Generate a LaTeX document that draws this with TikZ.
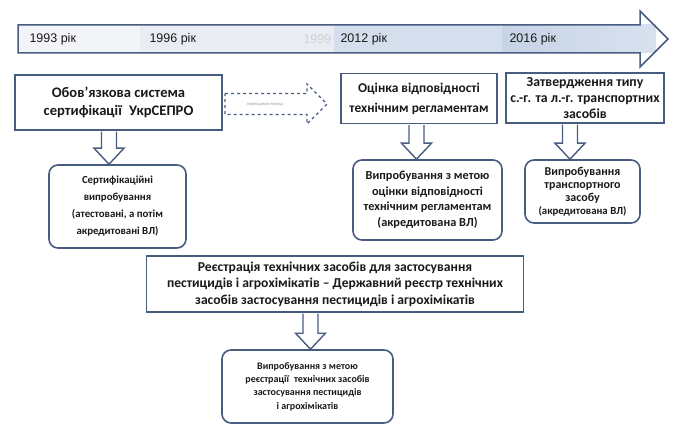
\documentclass[tikz,border=0pt]{standalone}
\usepackage{fontspec}
\setmainfont{Carlito}
\newfontfamily\arialfont{Liberation Sans}
\usetikzlibrary{arrows.meta,calc}
\definecolor{frame}{RGB}{72,92,128}
\definecolor{zoneA}{RGB}{243,244,247}
\definecolor{zoneB}{RGB}{233,237,243}
\definecolor{zoneC}{RGB}{213,222,236}
\definecolor{zoneD}{RGB}{199,212,231}
\definecolor{zoneE}{RGB}{216,225,238}

% hollow block arrow: from node, to node, x offset from target centre
\newcommand\blkarrow[3]{%
  \draw[blk] let \p1=(#1.south), \p2=(#2.north) in
    (\x2+#3-7.5pt,\y1-0.8pt) -- (\x2+#3-7.5pt,\y2+16pt) -- (\x2+#3-15pt,\y2+16pt)
    -- (\x2+#3,\y2) -- (\x2+#3+15pt,\y2+16pt) -- (\x2+#3+7.5pt,\y2+16pt)
    -- (\x2+#3+7.5pt,\y1-0.8pt);}

\begin{document}
\begin{tikzpicture}[x=1pt, y=-1pt,
    box/.style = {draw=frame, line width=1.6pt, rectangle, align=center, text=black!90, inner sep=1pt},
    rbox/.style = {box, rounded corners=9pt},
    blk/.style = {draw=frame, line width=1.4pt, line join=miter},
    year/.style = {anchor=west, font=\arialfont\fontsize{12.5}{14}\selectfont, text=black!90},]
    \useasboundingbox (0,0) rectangle (673,425);
    % time line
    \fill[zoneA] (18,25) rectangle (140,53);
    \fill[zoneB] (140,25) rectangle (334,53);
    \fill[zoneC] (334,25) rectangle (502,53);
    \shade[left color=zoneD, right color=zoneE] (502,25) rectangle (656,53);
    \draw[frame, line width=1.5pt, line join=miter] (18,25) -- (640,25) -- (640,11) -- (668,39)
      -- (640,67) -- (640,53) -- (18,53) -- cycle;
    \node [year] (y1993) at (26,39) {1993 рік};
    \node [year] (y1996) at (146,39) {1996 рік};
    \node [year, text=black!18] (y1999) at (300,39) {1999};
    \node [year] (y2012) at (337,39) {2012 рік};
    \node [year] (y2016) at (506,39) {2016 рік};

    \node [box, minimum width=207, minimum height=55, font=\bfseries\fontsize{14.6}{18.5}\selectfont] (ukrsepro) at (118.5,102.5)
      {Обов’язкова система\\сертифікації\enspace УкрСЕПРО};
    \node [box, minimum width=156, minimum height=50, font=\bfseries\fontsize{13.4}{20}\selectfont] (techreg) at (419,98.5)
      {Оцінка відповідності\\технічним регламентам};
    \node [box, minimum width=158, minimum height=50, font=\bfseries\fontsize{13.8}{16}\selectfont] (typeappr) at (585,98)
      {Затвердження типу\\с.-г. та л.-г. транспортних\\засобів};
    \node [rbox, minimum width=137, minimum height=83, font=\bfseries\fontsize{10.8}{17}\selectfont] (certtest) at (117.5,206.5)
      {Сертифікаційні\\випробування\\(атестовані, а потім\\акредитовані ВЛ)};
    \node [rbox, minimum width=149, minimum height=80, font=\bfseries\fontsize{12.3}{15.5}\selectfont] (regtest) at (427.5,200)
      {Випробування з метою\\оцінки відповідності\\технічним регламентам\\(акредитована ВЛ)};
    \node [rbox, minimum width=115, minimum height=63, font=\bfseries\fontsize{12}{13}\selectfont] (vehtest) at (582.5,191.5)
      {Випробування\\транспортного\\засобу\\{\fontsize{10.8}{13}\selectfont(акредитована ВЛ)}};
    \node [box, minimum width=377, minimum height=56, font=\bfseries\fontsize{13.6}{16.5}\selectfont] (pestreg) at (335,284)
      {Реєстрація технічних засобів для застосування\\пестицидів і агрохімікатів – Державний реєстр технічних\\засобів застосування пестицидів і агрохімікатів};
    \node [rbox, minimum width=171, minimum height=73, font=\bfseries\fontsize{10}{13.3}\selectfont] (pesttest) at (307.5,386.5)
      {Випробування з метою\\реєстрації\enspace технічних засобів\\застосування пестицидів\\і агрохімікатів};

    % dashed transition arrow
    \draw[frame, line width=1.3pt, dashed, line join=miter] (225,93.5) -- (307,93.5) -- (307,84)
      -- (327,104) -- (307,124) -- (307,114.5) -- (225,114.5) -- cycle;
    \node [font=\fontsize{4.5}{5}\selectfont, text=black!40] (transit) at (265,104) {перехідний період};

    \blkarrow{ukrsepro}{certtest}{-8.5pt}
    \blkarrow{techreg}{regtest}{-11pt}
    \blkarrow{typeappr}{vehtest}{-12.5pt}
    \blkarrow{pestreg}{pesttest}{3pt}
  \end{tikzpicture}
\end{document}
